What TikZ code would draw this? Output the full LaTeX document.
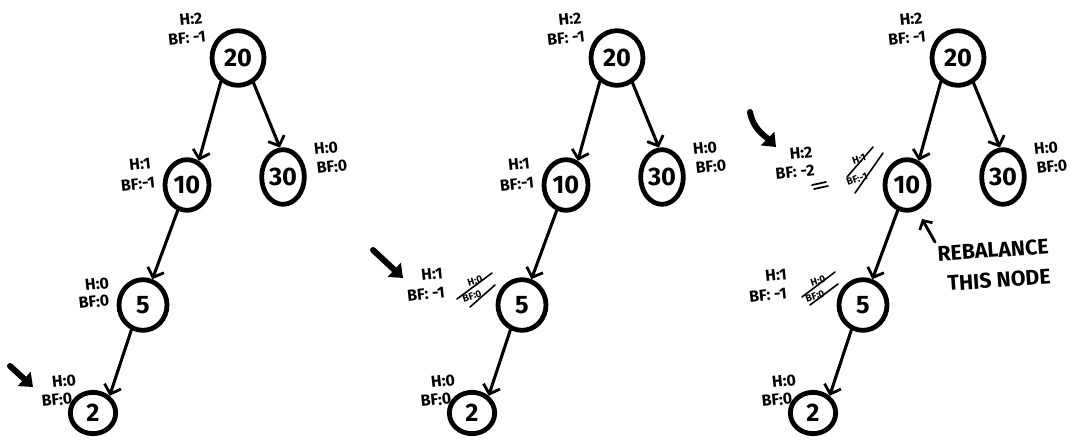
\documentclass[tikz,border=0pt]{standalone}
\usepackage{fontspec}
\setmainfont{Fira Sans}
\usetikzlibrary{arrows.meta,shapes.geometric}
\tikzset{
  tn/.style={draw, ellipse, line width=3.6pt, inner sep=0pt, font=\fontsize{19}{19}\selectfont\bfseries},
  edge/.style={line width=2.3pt, -{Straight Barb[length=6pt,width=13pt,line width=2.1pt]}},
  lab/.style={inner sep=0pt, font=\fontsize{12}{13}\selectfont\bfseries, rotate=6},
  tiny/.style={inner sep=0pt, font=\fontsize{7.5}{8}\selectfont\bfseries, rotate=18},
  strike/.style={line width=1.2pt},
  pointer/.style={line width=4.5pt, -{Triangle[length=9pt,width=14pt]}},
  note/.style={inner sep=0pt, font=\fontsize{16}{17}\selectfont\bfseries, rotate=4},
}
\newcommand{\avltree}[1]{%
  \node[tn, minimum width=39pt, minimum height=41pt] (#1n20) at (238,58) {20};
  \node[tn, minimum width=33pt, minimum height=38pt] (#1n10) at (187,185) {10};
  \node[tn, minimum width=32pt, minimum height=41pt] (#1n30) at (283,177) {30};
  \node[tn, minimum width=36pt, minimum height=38pt] (#1n5) at (143,305) {5};
  \node[tn, minimum width=34pt, minimum height=31pt] (#1n2) at (93,413) {2};
  \draw[edge] (#1n20.234) -- (#1n10.64);
  \draw[edge] (#1n20.302) -- (#1n30.96);
  \draw[edge] (#1n10.250) -- (#1n5.70);
  \draw[edge] (#1n5.245) -- (#1n2.46);
  \node[lab] (#1h20) at (191,19) {H:2};
  \node[lab] (#1b20) at (187,38) {BF: -1};
  \node[lab] (#1h30) at (326,148) {H:0};
  \node[lab] (#1b30) at (332,167) {BF:0};
  \node[lab] (#1h2) at (64,381) {H:0};
  \node[lab] (#1b2) at (57,400) {BF:0};
}
\begin{document}
\begin{tikzpicture}[x=0.75pt,y=-0.75pt, line cap=round, line join=round]
\useasboundingbox (0,0) rectangle (1072,443);

% ---------- panel 1 ----------
\begin{scope}
  \avltree{a}
  \node[lab] (ah10) at (140,164) {H:1};
  \node[lab] (ab10) at (138,184) {BF:-1};
  \node[lab] (ah5) at (97,284) {H:0};
  \node[lab] (ab5) at (94,302) {BF:0};
  \coordinate (ap1) at (10,366);
  \coordinate (ap2) at (33,387);
  \draw[pointer] (ap1) -- (ap2);
\end{scope}

% ---------- panel 2 ----------
\begin{scope}[shift={(379,0)}]
  \avltree{b}
  \node[lab] (bh10) at (140,164) {H:1};
  \node[lab] (bb10) at (138,184) {BF:-1};
  \node[lab] (bh5) at (53,274) {H:1};
  \node[lab] (bb5) at (47,294) {BF: -1};
  \node[tiny] (bh5o) at (96,281) {H:0};
  \node[tiny] (bb5o) at (93,296) {BF:0};
  \coordinate (bs1) at (78,299);
  \coordinate (bs2) at (113,273);
  \coordinate (bs3) at (91,307);
  \coordinate (bs4) at (116,285);
  \draw[strike] (bs1) -- (bs2);
  \draw[strike] (bs3) -- (bs4);
  \coordinate (bp1) at (-6,250);
  \coordinate (bp2) at (24,278);
  \draw[pointer] (bp1) -- (bp2);
\end{scope}

% ---------- panel 3 ----------
\begin{scope}[shift={(720,0)}]
  \avltree{c}
  \node[lab] (ch10) at (81,153) {H:2};
  \node[lab] (cb10) at (75,172) {BF: -2};
  \coordinate (cu1) at (92,185);
  \coordinate (cu2) at (106,182);
  \coordinate (cu3) at (94,189);
  \coordinate (cu4) at (108,186);
  \draw[line width=1.3pt] (cu1) -- (cu2);
  \draw[line width=1.3pt] (cu3) -- (cu4);
  \node[tiny] (ch10o) at (139,159) {H:1};
  \node[tiny] (cb10o) at (137,179) {BF:-1};
  \coordinate (cs1) at (127,177);
  \coordinate (cs2) at (153,147);
  \coordinate (cs3) at (135,193);
  \coordinate (cs4) at (163,153);
  \draw[strike] (cs1) -- (cs2);
  \draw[strike] (cs3) -- (cs4);
  \node[lab] (ch5) at (56,275) {H:1};
  \node[lab] (cb5) at (48,295) {BF: -1};
  \node[tiny] (ch5o) at (98,281) {H:0};
  \node[tiny] (cb5o) at (95,296) {BF:0};
  \coordinate (cs5) at (82,297);
  \coordinate (cs6) at (115,272);
  \coordinate (cs7) at (90,305);
  \coordinate (cs8) at (118,284);
  \draw[strike] (cs5) -- (cs6);
  \draw[strike] (cs7) -- (cs8);
  \coordinate (cp1) at (30,112);
  \coordinate (cp2) at (56,147);
  \draw[pointer] (cp1) to[out=-80, in=135] (cp2);
  \node[note] (reb) at (273,250) {REBALANCE};
  \node[note] (thn) at (279,280) {THIS NODE};
  \coordinate (ra1) at (215,242);
  \coordinate (ra2) at (202,219);
  \draw[line width=2.2pt, -{Straight Barb[length=5pt,width=11pt,line width=2pt]}] (ra1) -- (ra2);
\end{scope}
\end{tikzpicture}
\end{document}
